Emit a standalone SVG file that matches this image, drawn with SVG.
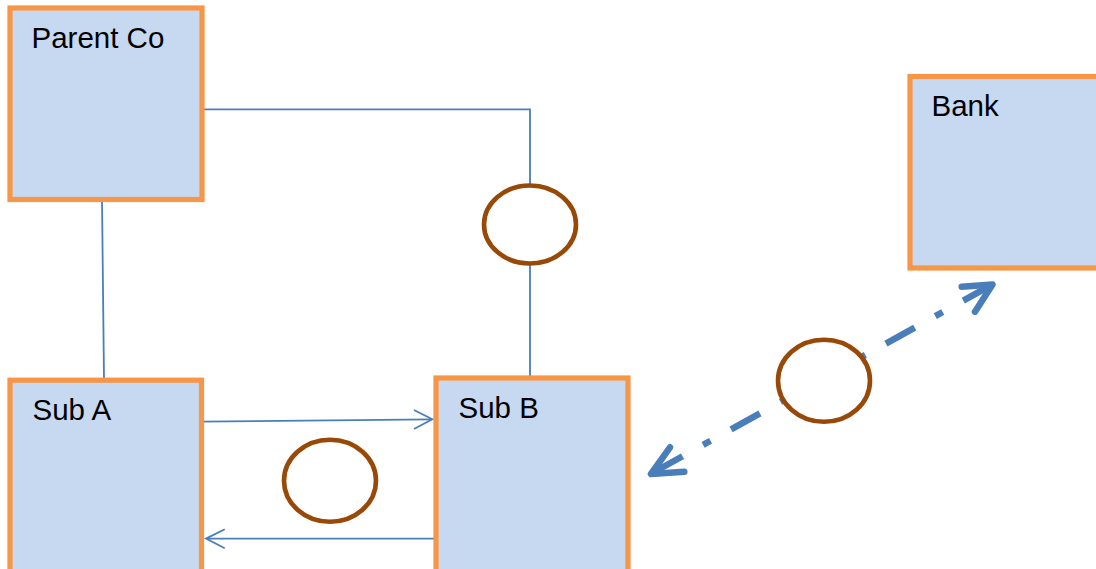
<svg xmlns="http://www.w3.org/2000/svg" width="1096" height="569" viewBox="0 0 1096 569">
<style>
.box{fill:#C6D9F1;stroke:#F79646;stroke-width:5.2}
.lbl{font-family:"Liberation Sans",Arial,sans-serif;font-size:29.5px;fill:#000}
.conn{fill:none;stroke:#4A7EBB;stroke-width:1.8}
.oval{fill:#fff;stroke:#984807;stroke-width:4.6}
.dd{fill:none;stroke:#4A7EBB;stroke-width:6.5}
.ah{fill:none;stroke:#4A7EBB;stroke-width:6.5;stroke-linecap:round;stroke-linejoin:round}
</style>
<rect width="1096" height="569" fill="#fff"/>
<g id="connectors">
  <polyline class="conn" points="202,109.3 530,109.3 530,186"/>
  <line class="conn" x1="530" y1="264" x2="530" y2="377"/>
  <line class="conn" x1="102" y1="200" x2="104" y2="379"/>
  <line class="conn" x1="202" y1="421.7" x2="432" y2="419.3"/>
  <polyline class="conn" points="414,410 432.3,419.3 414,429"/>
  <line class="conn" x1="436.7" y1="538.6" x2="207" y2="538.6"/>
  <polyline class="conn" points="224.7,529.3 206,538.6 224.7,548.3"/>
  <line class="dd" x1="650" y1="474.3" x2="993.3" y2="284" stroke-dasharray="33 23.5 8.5 23.5" stroke-dashoffset="84.3"/>
  <polyline class="ah" points="670,447.3 651,474 684.3,471.7"/>
  <polyline class="ah" points="961.7,286.7 992.5,284.5 975,311.7"/>
</g>
<g id="parent-co">
  <rect class="box" x="10" y="8" width="192" height="191.5"/>
  <text class="lbl" x="31.5" y="47.5">Parent Co</text>
</g>
<g id="sub-a">
  <rect class="box" x="10" y="380.2" width="191.5" height="195"/>
  <text class="lbl" x="32.5" y="420">Sub A</text>
</g>
<g id="sub-b">
  <rect class="box" x="436" y="378" width="192" height="197"/>
  <text class="lbl" x="458.5" y="418.3">Sub B</text>
</g>
<g id="bank">
  <rect class="box" x="910" y="76.5" width="200" height="191.5"/>
  <text class="lbl" x="931.5" y="116">Bank</text>
</g>
<g id="oval-top">
  <ellipse class="oval" cx="530" cy="224.5" rx="46" ry="39"/>
</g>
<g id="oval-subs">
  <ellipse class="oval" cx="330" cy="480.7" rx="46" ry="41"/>
</g>
<g id="oval-bank">
  <ellipse class="oval" cx="824" cy="380.7" rx="46" ry="41"/>
</g>
</svg>
